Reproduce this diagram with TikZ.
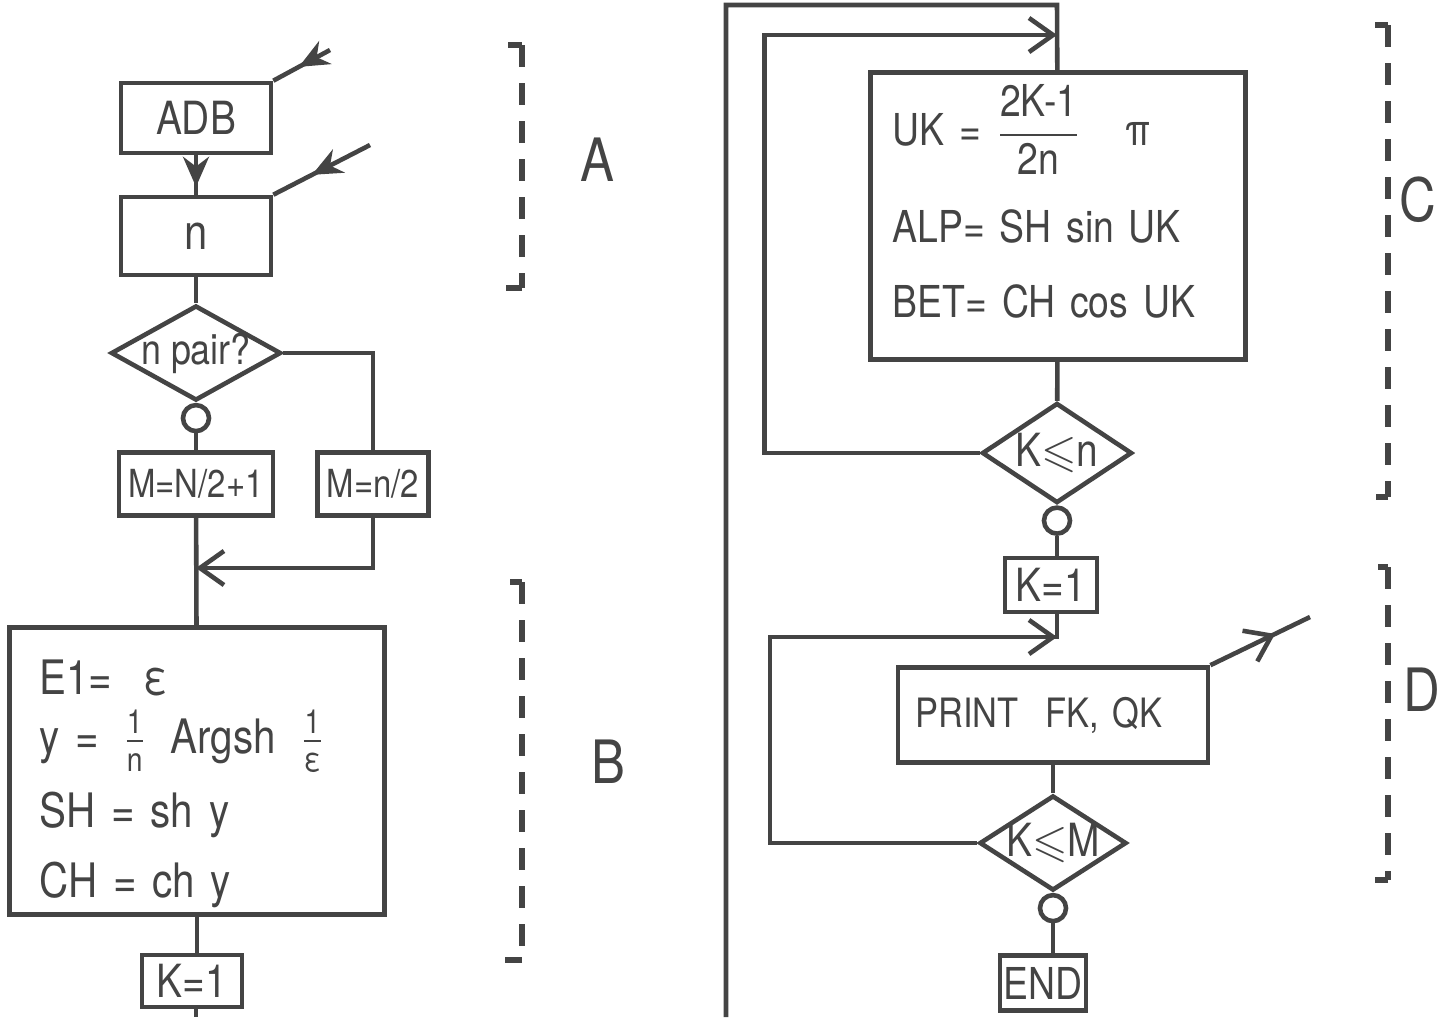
\documentclass[tikz,border=0pt]{standalone}
\usepackage{amsmath}
\usepackage{amssymb}
\usepackage{fontspec}
\newfontfamily\hand{TeX Gyre Heros}[FakeStretch=0.85]
\usetikzlibrary{arrows.meta, positioning, shapes.geometric, decorations.markings}
\usepackage{xcolor}
\definecolor{ink}{RGB}{68,68,68}

\begin{document}
\begin{tikzpicture}[x=0.01cm, y=-0.01cm, line width=1.3pt, color=ink,
  every node/.style={font=\hand\fontsize{12}{14.5}\selectfont},
  box/.style={draw, rectangle, inner sep=1pt},
  test/.style={draw, diamond, inner sep=0pt},
  joint/.style={draw, circle, minimum size=0.26cm, inner sep=0pt},
  barb/.style={-{Straight Barb[length=2.4mm, width=3.4mm]}},
  midarrow/.style={postaction={decorate}, decoration={markings, mark=at position #1 with {\arrow{Stealth[length=3mm, width=2.6mm]}}}},
  outarrow/.style={postaction={decorate}, decoration={markings, mark=at position #1 with {\arrow{Straight Barb[length=2.4mm, width=3.4mm]}}}},
  bracket/.style={line width=1.6pt, dash pattern=on 2.2mm off 1.6mm},
  part/.style={font=\hand\fontsize{17}{20}\selectfont}]
  \useasboundingbox (0,0) rectangle (1448,1017);

  \node[box, minimum width=1.5cm, minimum height=0.7cm, font=\hand\fontsize{13}{15}\selectfont] (ADB) at (196,118) {ADB};
  \node[box, minimum width=1.5cm, minimum height=0.78cm, font=\hand\fontsize{14}{16}\selectfont] (N) at (196,236) {n};
  \node[test, minimum width=1.7cm, minimum height=0.95cm, label={center:n pair?}] (PAIR) at (196,353) {};
  \node[joint, below=0pt of PAIR] (O1) {};
  \node[box, minimum width=1.54cm, minimum height=0.63cm, font=\hand\fontsize{11}{13}\selectfont] (M1) at (196,484) {M=N/2+1};
  \node[box, minimum width=1.11cm, minimum height=0.63cm, font=\hand\fontsize{11}{13}\selectfont] (M2) at (373,484) {M=n/2};
  \coordinate (J1) at (196,568);
  \node[box, minimum width=3.75cm, minimum height=2.87cm, text width=3.15cm, align=left, font=\hand\fontsize{13.5}{16}\selectfont] (CALC) at (197,771)
    {\rule{0pt}{6mm}E1= \ ε\\[0.3mm] y = \,$\frac{\text{1}}{\text{n}}$\, Argsh \,$\frac{\text{1}}{\text{ε}}$\\[1.8mm] SH = sh y\\[1.3mm] CH = ch y};
  \node[box, minimum width=1cm, minimum height=0.52cm, font=\hand\fontsize{13}{15}\selectfont] (K1) at (192,981) {K=1};
  \coordinate (OUTB) at (196,1017);
  \coordinate (INA) at (330,50);
  \coordinate (INN) at (370,145);

  \draw[midarrow=0.8] (ADB) -- (N);
  \draw (N) -- (PAIR);
  \draw (O1) -- (M1);
  \draw (PAIR.east) -| (M2);
  \draw (M1) -- (CALC);
  \draw[barb] (M2) |- (J1);
  \draw (CALC) -- (CALC.south |- K1.north);
  \draw (K1.south -| OUTB) -- (OUTB);
  \draw[midarrow=0.55] (INA) -- (ADB.north east);
  \draw[midarrow=0.6] (INN) -- (N.north east);

  \node[box, minimum width=3.75cm, minimum height=2.87cm, text width=3.3cm, align=left, font=\hand\fontsize{12.5}{15}\selectfont] (UK) at (1058,216)
    {UK = $\dfrac{\text{2K-1}}{\text{2n}}$\quad π\\[3.2mm] ALP= SH sin UK\\[2.2mm] BET= CH cos UK\rule[-3mm]{0pt}{0pt}};
  \node[test, minimum width=1.5cm, minimum height=1cm, label={[font=\hand\fontsize{13}{15}\selectfont]center:K$\leqslant$n}] (KN) at (1057,453) {};
  \node[joint, below=0pt of KN] (O2) {};
  \node[box, minimum width=0.92cm, minimum height=0.54cm, font=\hand\fontsize{13}{15}\selectfont] (K2) at (1051,585) {K=1};
  \coordinate (JD) at (1057,637);
  \node[box, minimum width=3.1cm, minimum height=0.95cm, text width=2.75cm, align=left, font=\hand\fontsize{11.5}{13}\selectfont] (PRINT) at (1053,715) {PRINT\ \ FK, QK};
  \node[test, minimum width=1.47cm, minimum height=0.95cm, label={[font=\hand\fontsize{13}{15}\selectfont]center:K$\leqslant$M}] (KM) at (1053,843) {};
  \node[joint, below=0pt of KM] (O3) {};
  \node[box, minimum width=0.72cm, minimum height=0.55cm, font=\hand\fontsize{12.5}{15}\selectfont] (END) at (1043,983) {END};
  \coordinate (INC) at (726,1017);
  \coordinate (TOPC) at (1057,5);
  \coordinate (JC) at (1057,35);
  \coordinate (OUTD) at (1310,617);

  \draw (INC) |- (TOPC) -- (UK);
  \draw (UK) -- (KN);
  \draw[barb] (KN.west) -- ++(-215,0) |- (JC);
  \draw (O2) -- (O2 |- K2.north);
  \draw (O2 |- K2.south) -- (JD) -- (JD -| PRINT.north);
  \draw (PRINT) -- (KM);
  \draw[barb] (KM.west) -- ++(-207,0) |- (JD);
  \draw (O3) -- (O3 |- END.north);
  \draw[outarrow=0.65] (PRINT.north east) -- (OUTD);

  \draw[line width=1.6pt] (508,45) -- (522,45);
  \draw[bracket] (522,45) -- (522,288);
  \draw[line width=1.6pt] (522,288) -- (506,288);
  \node[part] (A) at (597,160) {A};
  \draw[line width=1.6pt] (510,582) -- (522,582);
  \draw[bracket] (522,582) -- (522,960);
  \draw[line width=1.6pt] (522,960) -- (505,960);
  \node[part] (B) at (608,762) {B};
  \draw[line width=1.6pt] (1375,25) -- (1388,25);
  \draw[bracket] (1388,25) -- (1388,497);
  \draw[line width=1.6pt] (1388,497) -- (1376,497);
  \node[part] (C) at (1418,200) {C};
  \draw[line width=1.6pt] (1378,567) -- (1388,567);
  \draw[bracket] (1388,567) -- (1388,880);
  \draw[line width=1.6pt] (1388,880) -- (1375,880);
  \node[part] (D) at (1422,690) {D};
\end{tikzpicture}
\end{document}
